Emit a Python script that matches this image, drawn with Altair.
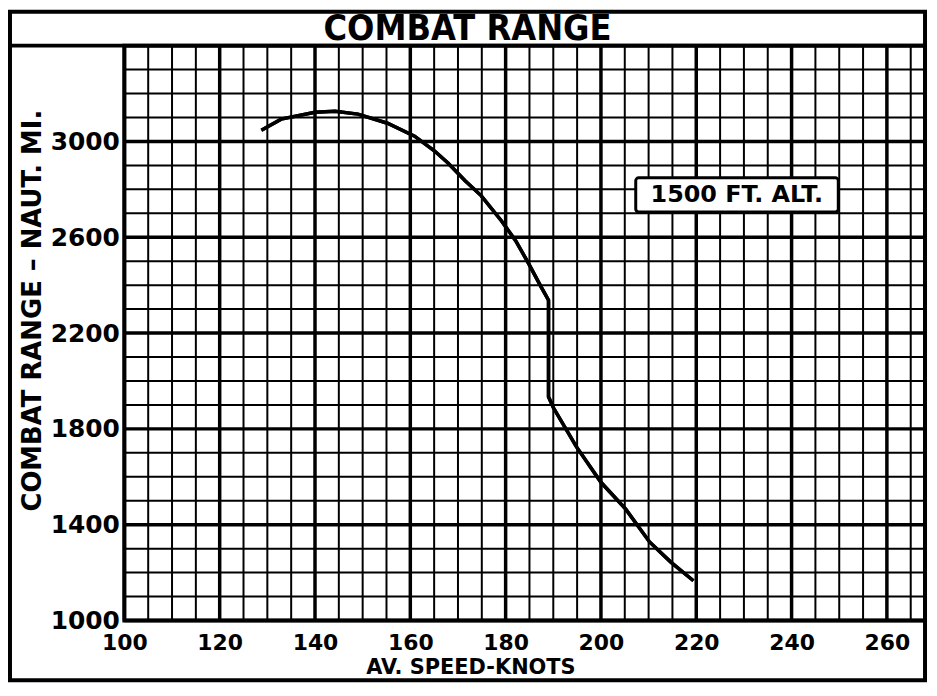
import altair as alt
import pandas as pd

# ---- data ----
speed = [128.75, 132.9, 140.0, 144.2, 149.0, 155.2, 160.9, 165.1, 167.9, 171.5,
         174.9, 179.1, 182.1, 184.8, 187.5, 189.0, 189.0, 190.0, 194.8, 200.0,
         205.2, 210.2, 214.6, 219.4]
combat_range = [3047, 3093, 3122, 3126, 3114, 3076, 3022, 2960, 2910, 2836,
                2773, 2669, 2586, 2491, 2391, 2337, 1934, 1889, 1727, 1577,
                1465, 1328, 1245, 1166]

x_ticks = [100, 120, 140, 160, 180, 200, 220, 240, 260]
y_ticks = [1000, 1400, 1800, 2200, 2600, 3000]

title_text = "COMBAT RANGE"
x_title = "AV. SPEED-KNOTS"
y_title = "COMBAT RANGE – NAUT. MI."
note_text = "1500 FT. ALT."

# annotation anchor (data coordinates)
note_x, note_y = 228.5, 2776
note_x0, note_x1 = 207.3, 249.8
note_y0, note_y1 = 2705, 2848

X_DOM = [100, 268]
Y_DOM = [1000, 3400]
W, H = 805, 578
FONT = "DejaVu Sans"

xs = alt.Scale(domain=X_DOM, nice=False, zero=False)
ys = alt.Scale(domain=Y_DOM, nice=False, zero=False)

curve = pd.DataFrame({"speed": speed, "range": combat_range, "i": range(len(speed))})

gx = list(range(100, 269, 5))
gy = list(range(1000, 3401, 100))
gx_thin = pd.DataFrame({"speed": [v for v in gx if v % 20 != 0]})
gx_thick = pd.DataFrame({"speed": [v for v in gx if v % 20 == 0]})
gy_thin = pd.DataFrame({"range": [v for v in gy if (v - 1000) % 400 != 0]})
gy_thick = pd.DataFrame({"range": [v for v in gy if (v - 1000) % 400 == 0]})

def vrules(df, w):
    return alt.Chart(df).mark_rule(color="black", strokeWidth=w).encode(
        x=alt.X("speed:Q", scale=xs))

def hrules(df, w):
    return alt.Chart(df).mark_rule(color="black", strokeWidth=w).encode(
        y=alt.Y("range:Q", scale=ys))

grid = vrules(gx_thin, 2) + vrules(gx_thick, 3.5) + hrules(gy_thin, 2) + hrules(gy_thick, 3.5)

line = alt.Chart(curve).mark_line(color="black", strokeWidth=3.5).encode(
    x=alt.X("speed:Q", scale=xs,
            axis=alt.Axis(values=x_ticks, title=x_title, grid=False, ticks=False, domain=False,
                          format="d",
                          labelFont=FONT, labelFontWeight="bold", labelFontSize=22,
                          labelColor="black", labelPadding=12, labelFlush=False,
                          titleFont=FONT, titleFontWeight="bold", titleFontSize=21,
                          titleColor="black", titleX=348, titleY=47,
                          titleAlign="center", titleBaseline="middle", titleAnchor="start",
                          zindex=2)),
    y=alt.Y("range:Q", scale=ys,
            axis=alt.Axis(values=y_ticks, title=y_title, grid=False, ticks=False, domain=False,
                          format="d",
                          labelFont=FONT, labelFontWeight="bold", labelFontSize=25,
                          labelColor="black", labelPadding=5, labelFlush=False,
                          titleFont=FONT, titleFontWeight="bold", titleFontSize=26,
                          titleColor="black", titleAngle=270, titleX=-92, titleY=266,
                          titleAlign="center", titleBaseline="middle", titleAnchor="start",
                          zindex=2)),
    order="i:Q",
)

note_df = pd.DataFrame({"speed": [note_x], "range": [note_y], "x1": [note_x1], "x0": [note_x0],
                        "y0": [note_y0], "y1": [note_y1], "t": [note_text]})
note_box = alt.Chart(note_df).mark_rect(fill="white", stroke="black", strokeWidth=3,
                                        cornerRadius=3).encode(
    x=alt.X("x0:Q", scale=xs), x2="x1:Q",
    y=alt.Y("y0:Q", scale=ys), y2="y1:Q")
note_txt = alt.Chart(note_df).mark_text(font=FONT, fontWeight="bold", fontSize=24,
                                        color="black").encode(
    x=alt.X("speed:Q", scale=xs), y=alt.Y("range:Q", scale=ys), text="t:N")

# outer frame and title box (decoration in pixel space)
frame = alt.Chart(pd.DataFrame({"a": [0]})).mark_rect(fillOpacity=0, stroke="black",
                                                      strokeWidth=4).encode(
    x=alt.value(-115), x2=alt.value(W), y=alt.value(-34), y2=alt.value(638))
top_line = alt.Chart(pd.DataFrame({"a": [0]})).mark_rule(color="black", strokeWidth=4).encode(
    x=alt.value(-115), x2=alt.value(W), y=alt.value(0))
title = alt.Chart(pd.DataFrame({"t": [title_text]})).mark_text(
    font="Liberation Sans Narrow, DejaVu Sans Condensed, sans-serif", fontWeight="bold",
    fontSize=36, color="black", baseline="middle", align="center").encode(
    x=alt.value(345), y=alt.value(-17), text="t:N")

chart = alt.layer(line, grid, line, note_box, note_txt, frame, top_line, title).properties(
    width=W, height=H,
    padding={"left": 117, "top": 36, "right": 4, "bottom": 62},
    autosize=alt.AutoSizeParams(type="none"),
    background="white",
).configure_view(stroke="black", strokeWidth=4)

chart.save("out.html", embed_options={"renderer": "svg", "actions": False})
